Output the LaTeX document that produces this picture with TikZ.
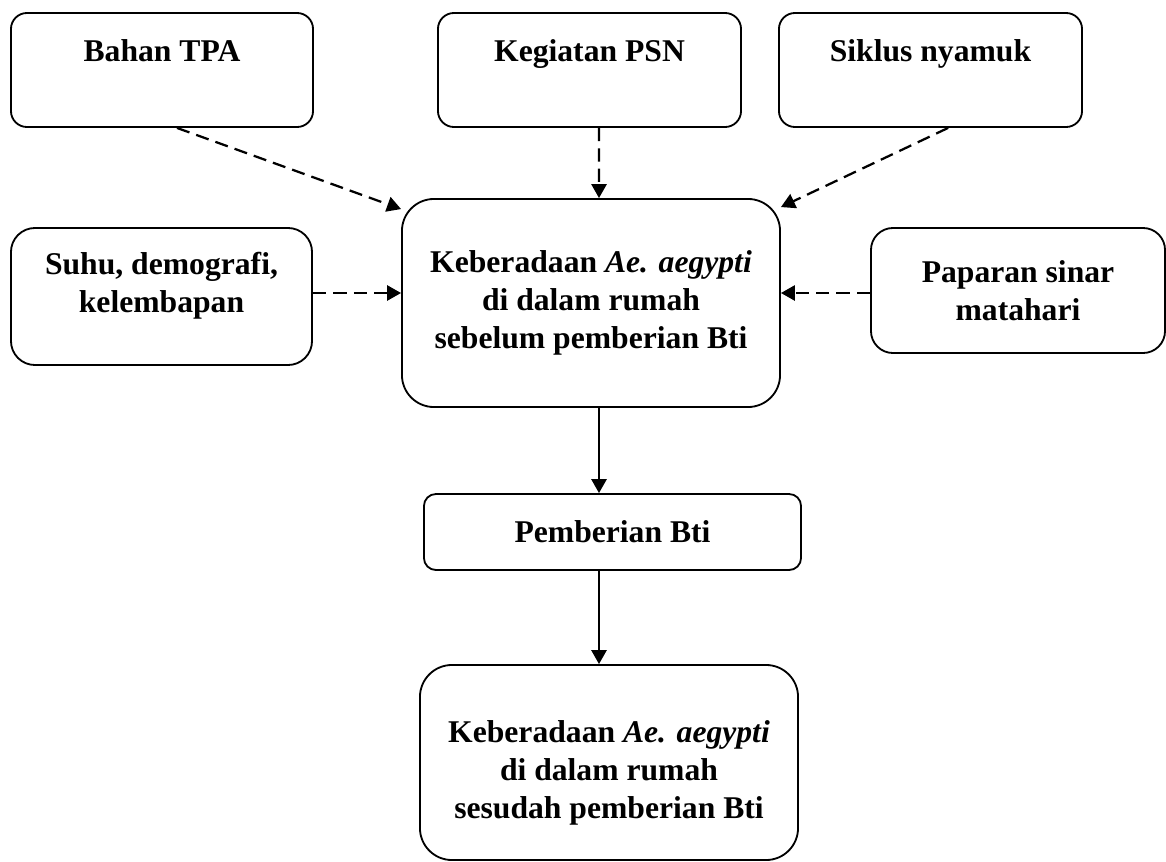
\documentclass[tikz,border=0pt]{standalone}
\usepackage{fontspec}
\setmainfont{Liberation Serif}
\usetikzlibrary{arrows.meta,positioning}

\begin{document}
\begin{tikzpicture}[x=0.025cm,y=-0.025cm,>={Triangle[length=3.5mm,width=3.8mm]},
  box/.style={draw,line width=1.3pt,align=center,inner sep=2pt,
    font=\fontsize{22.5}{27}\selectfont\bfseries},
  dep/.style={->,line width=1.6pt,dash pattern=on 3.3mm off 1.8mm},
  lnk/.style={->,line width=1.6pt}]
\useasboundingbox (0,0) rectangle (1166,862);
% faktor luar
\node[box,rounded corners=4mm,minimum width=7.55cm,minimum height=2.85cm] (tpa) at (162,70) {Bahan TPA\\~};
\node[box,rounded corners=4mm,minimum width=7.575cm,minimum height=2.85cm] (psn) at (589.5,70) {Kegiatan PSN\\~};
\node[box,rounded corners=4mm,minimum width=7.575cm,minimum height=2.85cm] (sik) at (930.5,70) {Siklus nyamuk\\~};
\node[box,rounded corners=6mm,minimum width=7.525cm,minimum height=3.425cm] (suhu) at (161.5,296.5) {Suhu, demografi,\\kelembapan\\[-7pt]~};
\node[box,rounded corners=5.5mm,minimum width=7.35cm,minimum height=3.125cm] (pap) at (1018,290.5) {Paparan sinar\\matahari};
% alur utama
\node[box,rounded corners=8mm,minimum width=9.45cm,minimum height=5.2cm] (pre) at (591,303) {Keberadaan \textit{Ae. aegypti}\\di dalam rumah\\sebelum pemberian Bti};
\node[box,rounded corners=3mm,minimum width=9.425cm,minimum height=1.9cm] (bti) at (612.5,532) {Pemberian Bti};
\node[box,rounded corners=8mm,minimum width=9.45cm,minimum height=4.875cm] (post) at (609,762.5) {~\\[4pt]Keberadaan \textit{Ae. aegypti}\\di dalam rumah\\sesudah pemberian Bti};
\draw[dep] ([xshift=3.75mm]tpa.south) -- ([yshift=-2.75mm]pre.north west);
\draw[dep] ([xshift=2.4mm]psn.south) -- ([xshift=2mm]pre.north);
\draw[dep] ([xshift=4.4mm]sik.south) -- ([yshift=-2.25mm]pre.north east);
\draw[dep] ([yshift=2.5mm]pre.west-|suhu.east) -- ([yshift=2.5mm]pre.west);
\draw[dep] ([yshift=2.5mm]pre.east-|pap.west) -- ([yshift=2.5mm]pre.east);
\draw[lnk] ([xshift=2mm]pre.south) -- ([xshift=2mm]pre.south|-bti.north);
\draw[lnk] ([xshift=2mm]pre.south|-bti.south) -- ([xshift=2mm]pre.south|-post.north);
\end{tikzpicture}
\end{document}
